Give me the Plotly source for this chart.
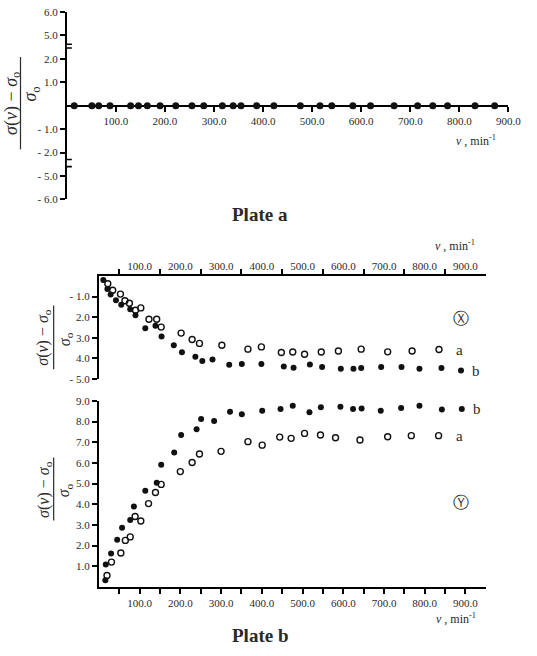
import plotly.graph_objects as go

W, H = 537, 656

# ---------------- data ----------------
# Plate a : all points lie on the zero line
plate_a_x = [15, 51, 65, 88, 130, 146, 164, 190, 222, 255, 279, 317, 339, 355,
             387, 422, 476, 516, 540, 583, 619, 667, 715, 746, 776, 832, 872]
plate_a_y = [0, 0, 0, 0, 0, 0, 0, 0, 0, 0, 0, 0, 0, 0,
             0, 0, 0, 0, 0, 0, 0, 0, 0, 0, 0, 0, 0]

# Plate b, panel X
bx_b_x = [11, 21, 29, 42, 55, 77, 90, 114, 139, 154, 184, 204, 237, 254, 279,
          320, 351, 399, 454, 478, 518, 548, 594, 625, 644, 693, 743, 787, 841, 889]
bx_b_y = [-0.2, -0.63, -0.9, -1.18, -1.39, -1.61, -1.9, -2.54, -2.42, -2.94,
          -3.36, -3.7, -3.92, -4.12, -4.05, -4.31, -4.27, -4.27, -4.39, -4.45,
          -4.3, -4.41, -4.5, -4.5, -4.47, -4.42, -4.42, -4.5, -4.47, -4.58]
bx_a_x = [22, 34, 53, 64, 75, 90, 103, 123, 142, 153, 202, 229, 247, 302, 366,
          399, 448, 476, 505, 546, 588, 644, 709, 769, 835]
bx_a_y = [-0.38, -0.69, -0.88, -1.2, -1.32, -1.66, -1.55, -2.1, -2.1, -2.48,
          -2.77, -3.08, -3.27, -3.36, -3.55, -3.44, -3.71, -3.69, -3.8, -3.69,
          -3.64, -3.55, -3.68, -3.64, -3.57]

# Plate b, panel Y
by_b_x = [16, 17, 30, 45, 57, 77, 86, 114, 142, 153, 185, 202, 240, 251, 283,
          322, 351, 401, 446, 476, 517, 545, 593, 624, 645, 692, 742, 787, 842, 891]
by_b_y = [0.32, 1.08, 1.61, 2.28, 2.86, 3.24, 3.89, 4.65, 5.04, 5.91, 6.51,
          7.35, 7.63, 8.12, 8.03, 8.48, 8.36, 8.52, 8.61, 8.77, 8.45, 8.69,
          8.72, 8.61, 8.64, 8.53, 8.66, 8.77, 8.58, 8.61]
by_a_x = [20, 31, 54, 65, 77, 89, 103, 122, 139, 153, 200, 229, 247, 300, 366,
          401, 444, 472, 505, 544, 581, 641, 709, 767, 834]
by_a_y = [0.55, 1.2, 1.64, 2.25, 2.42, 3.41, 3.19, 4.03, 4.57, 4.96, 5.58,
          6.02, 6.43, 6.56, 7.03, 6.86, 7.25, 7.19, 7.43, 7.35, 7.22, 7.11,
          7.27, 7.32, 7.32]

# tick labels
x_tick_vals = [100, 200, 300, 400, 500, 600, 700, 800, 900]
x_tick_text = ["100.0", "200.0", "300.0", "400.0", "500.0", "600.0", "700.0", "800.0", "900.0"]
a_ytick_vals = [-4, -3, -2, -1, 1, 2, 3, 4]
a_ytick_text = ["- 6.0", "- 5.0", "- 2.0", "- 1.0", "1.0", "2.0", "5.0", "6.0"]
b_half_ticks = [50, 150, 250, 350, 450, 550, 650, 750, 850]
bx_ytick_vals = [-1, -2, -3, -4, -5]
bx_ytick_text = ["- 1.0", "2.0", "3.0", "4.0", "- 5.0"]
by_ytick_vals = [1, 2, 3, 4, 5, 6, 7, 8, 9]
by_ytick_text = ["1.0", "2.0", "3.0", "4.0", "5.0", "6.0", "7.0", "8.0", "9.0"]

# ---------------- helpers ----------------
SERIF = "Liberation Serif"
TXT = "#2a2a2a"


def px(x):
    return x / W


def py(y):
    return 1 - y / H


fig = go.Figure()

filled = dict(symbol="circle", size=6, color="#111111")
opened = dict(symbol="circle-open", size=6, color="#111111", line=dict(width=1.4, color="#111111"))

fig.add_trace(go.Scatter(x=plate_a_x, y=plate_a_y, mode="markers", xaxis="x", yaxis="y",
                         marker=dict(symbol="circle", size=7, color="#111111"), cliponaxis=False))
fig.add_trace(go.Scatter(x=bx_a_x, y=bx_a_y, mode="markers", xaxis="x2", yaxis="y2", marker=opened, cliponaxis=False))
fig.add_trace(go.Scatter(x=bx_b_x, y=bx_b_y, mode="markers", xaxis="x2", yaxis="y2", marker=filled, cliponaxis=False))
fig.add_trace(go.Scatter(x=by_a_x, y=by_a_y, mode="markers", xaxis="x3", yaxis="y3", marker=opened, cliponaxis=False))
fig.add_trace(go.Scatter(x=by_b_x, y=by_b_y, mode="markers", xaxis="x3", yaxis="y3", marker=filled, cliponaxis=False))

axis_common = dict(showline=True, linecolor="black", linewidth=2, showgrid=False, zeroline=False,
                   ticks="outside", ticklen=5, tickwidth=1.5, tickcolor="black",
                   tickfont=dict(family=SERIF, size=11, color=TXT), layer="below traces",
                   fixedrange=True)
half_minor = dict(tickmode="array", tickvals=b_half_ticks, ticks="outside",
                  ticklen=5, tickwidth=1.5, tickcolor="black")

a_xdom = [px(68.5), px(521)]
a_ydom = [py(197), py(6)]
b_xdom = [px(101.3), px(497.9)]
bx_ydom = [py(380), py(275)]
by_ydom = [py(591.7), py(402.3)]

fig.update_layout(
    width=W, height=H, margin=dict(l=0, r=0, t=0, b=0),
    paper_bgcolor="white", plot_bgcolor="rgba(0,0,0,0)", showlegend=False,
    xaxis=dict(axis_common, domain=a_xdom, range=[0, 900], anchor="free",
               position=(a_ydom[0] + a_ydom[1]) / 2,
               tickmode="array", tickvals=x_tick_vals, ticktext=x_tick_text),
    yaxis=dict(axis_common, domain=a_ydom, range=[-4, 4], anchor="x",
               tickmode="array", tickvals=a_ytick_vals, ticktext=a_ytick_text),
    xaxis2=dict(axis_common, domain=b_xdom, range=[0, 950], anchor="y2", side="top",
                tickmode="array", tickvals=x_tick_vals, ticktext=x_tick_text, ticks="",
                minor=half_minor),
    yaxis2=dict(axis_common, domain=bx_ydom, range=[-5, 0], anchor="x2",
                tickmode="array", tickvals=bx_ytick_vals, ticktext=bx_ytick_text),
    xaxis3=dict(axis_common, domain=b_xdom, range=[0, 950], anchor="y3",
                tickmode="array", tickvals=x_tick_vals, ticktext=x_tick_text,
                minor=half_minor),
    yaxis3=dict(axis_common, domain=by_ydom, range=[0, 9], anchor="x3",
                tickmode="array", tickvals=by_ytick_vals, ticktext=by_ytick_text),
)

# ---------------- axis breaks on plate a ----------------
shapes = []
for lo, hi in [(2.46, 2.62), (-2.6, -2.3)]:
    shapes.append(dict(type="rect", xref="x", yref="y", xsizemode="pixel", xanchor=0,
                       x0=-3, x1=3, y0=lo, y1=hi, fillcolor="white", line=dict(width=0), layer="above"))
    for yv in (lo, hi):
        shapes.append(dict(type="line", xref="x", yref="y", xsizemode="pixel", xanchor=0,
                           x0=-5, x1=5, y0=yv, y1=yv, line=dict(color="black", width=1.6), layer="above"))

# fraction bars of the y titles
for xb, y0, y1 in [(21, 52, 146), (55, 305, 370), (55, 460, 524)]:
    shapes.append(dict(type="line", xref="paper", yref="paper", x0=px(xb), x1=px(xb),
                       y0=py(y0), y1=py(y1), line=dict(color=TXT, width=1.2)))
fig.update_layout(shapes=shapes)

# ---------------- annotations ----------------
num = "<i>σ</i>(<i>ν</i>) − <i>σ</i><sub>o</sub>"
den = "<i>σ</i><sub>o</sub>"
ann = []


def add(text, x, y, size, xref="paper", yref="paper", angle=0, bold=False, family=SERIF,
        xanchor="center"):
    t = f"<b>{text}</b>" if bold else text
    ann.append(dict(text=t, x=x, y=y, xref=xref, yref=yref, showarrow=False,
                    textangle=angle, xanchor=xanchor, yanchor="middle",
                    font=dict(family=family, size=size, color=TXT)))


# y-axis titles (fractions)
add(num, px(12), py(99), 18, angle=-90)
add(den, px(32), py(90), 18, angle=-90)
add(num, px(45), py(337), 16, angle=-90)
add(den, px(67), py(339), 16, angle=-90)
add(num, px(45), py(492), 16, angle=-90)
add(den, px(67), py(493), 16, angle=-90)

# x-axis titles
nu = "<i>ν</i> , min<sup>-1</sup>"
add(nu, px(488), py(137), 12)
add(nu, px(466), py(244), 12)
add(nu, px(467), py(624), 12)

# plate titles
add("Plate a", px(266), py(212), 19, bold=True)
add("Plate b", px(266), py(641), 19, bold=True)

# series labels
add("a", 872, -3.6, 15, xref="x2", yref="y2", xanchor="left")
add("b", 912, -4.62, 15, xref="x2", yref="y2", xanchor="left")
add("b", 914, 8.62, 15, xref="x3", yref="y3", xanchor="left")
add("a", 873, 7.3, 15, xref="x3", yref="y3", xanchor="left")
add("Ⓧ", 890, -2.05, 16, xref="x2", yref="y2", family="DejaVu Sans")
add("Ⓨ", 890, 4.1, 16, xref="x3", yref="y3", family="DejaVu Sans")

fig.update_layout(annotations=ann)

fig.write_html("out.html")
